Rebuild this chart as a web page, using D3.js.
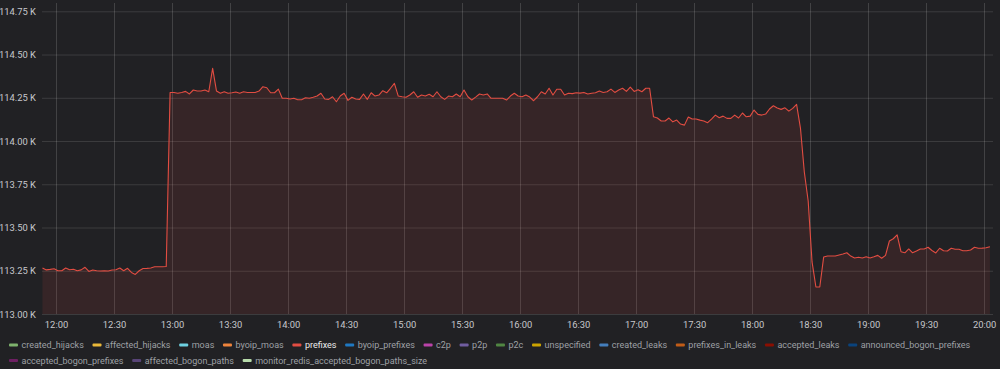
<!DOCTYPE html>
<html>
<head>
<meta charset="utf-8">
<script src="https://cdn.jsdelivr.net/npm/d3@7"></script>
<style>
	body { margin: 0; background: #212124; }
	svg { display: block; font-family: Roboto, sans-serif; }
</style>
</head>
<body>
<svg id="chart" width="1000" height="369"></svg>
<script>
// sampling of the series: one point every 2 minutes from 11:53
var startTime = "2021-03-01T11:53:00Z";
var stepMinutes = 2;

var prefixes = [
	113266,113255,113258,113262,113250,113250,113266,113256,113259,113250,113255,113270,113246,113254,113250,113249,113250,113249,113254,113256,113266,113250,113264,113240,113229,113250,113263,113264,113266,113273,113273,113273,113275,
	114281,114281,114276,114281,114287,114272,114295,114289,114289,114295,114285,114420,114289,114276,114285,114276,114279,114283,114276,114285,114281,114281,114281,114289,114314,114308,114279,114279,114300,
	114247,114247,114243,114247,114239,114239,114250,114247,114253,114260,114276,114243,114241,114256,114227,114260,114276,114235,114253,114243,114241,114272,114241,114279,114260,114266,114291,114279,114305,114333,
	114260,114256,114253,114266,114285,114253,114266,114260,114270,114256,114285,114256,114241,114260,114256,114272,114256,114295,114256,114237,114254,114272,114266,114272,114247,114247,114247,114247,114237,114260,114276,114260,114256,114266,114254,114233,114256,114285,114272,114305,114266,114299,114299,114266,114276,114274,114279,114277,114281,114272,114276,114279,114289,114281,114285,114300,
	114281,114295,114305,114287,114312,114287,114297,114285,114305,114305,
	114140,114133,114116,114116,114133,114111,114121,114098,114092,114139,114127,114127,114121,114116,114106,114127,114150,114135,114144,114131,114131,114150,114133,114162,114140,114144,114179,114154,114150,114156,114185,114204,114191,114183,114192,114173,114189,114212,
	114075,113821,113653,113301,113156,113156,113329,113335,113335,113335,113341,113347,113354,113335,113324,113328,113324,113331,113324,113331,113339,113322,113339,113422,113435,113457,
	113360,113354,113376,113354,113364,113376,113376,113386,113367,113353,113380,113366,113364,113380,113374,113374,113366,113366,113370,113386,113380,113381,113383,113389
];

var yTicks = [113000, 113250, 113500, 113750, 114000, 114250, 114500, 114750];
var xTicks = ["12:00","12:30","13:00","13:30","14:00","14:30","15:00","15:30","16:00","16:30","17:00","17:30","18:00","18:30","19:00","19:30","20:00"];

var seriesNames = ["created_hijacks","affected_hijacks","moas","byoip_moas","prefixes","byoip_prefixes","c2p","p2p","p2c","unspecified","created_leaks","prefixes_in_leaks","accepted_leaks","announced_bogon_prefixes","accepted_bogon_prefixes","affected_bogon_paths","monitor_redis_accepted_bogon_paths_size"];
var seriesColors = ["#7EB26D","#EAB839","#6ED0E0","#EF843C","#E24D42","#1F78C1","#BA43A9","#705DA0","#508642","#CCA300","#447EBC","#C15C17","#890F02","#0A437C","#6D1F62","#584477","#B7DBAB"];

var day = "2021-03-01T";
var t0 = new Date(startTime);
var data = prefixes.map((v, i) => ({time: new Date(t0.getTime() + i * stepMinutes * 60000), value: v}));

var svg = d3.select("#chart"),
	margin = {top: 3, left: 42, bottom: 55, right: 7},
	width = +svg.attr("width"),
	height = +svg.attr("height");

var x = d3.scaleUtc()
	.domain([new Date(day + "11:52:45Z"), new Date(day + "20:04:35Z")])
	.range([margin.left, width - margin.right]);

var y = d3.scaleLinear()
	.domain([113000, 114798])
	.range([height - margin.bottom, margin.top]);

var xTickDates = xTicks.map(d => new Date(day + d + ":00Z"));

// grid
svg.append("g")
	.attr("class", "y-grid")
	.selectAll("line")
	.data(yTicks)
	.enter().append("line")
	.attr("x1", margin.left)
	.attr("x2", width - margin.right)
	.attr("y1", d => y(d) + 0.5)
	.attr("y2", d => y(d) + 0.5)
	.attr("stroke", "#ffffff")
	.attr("stroke-opacity", 0.12);

svg.append("g")
	.attr("class", "x-grid")
	.selectAll("line")
	.data(xTickDates)
	.enter().append("line")
	.attr("x1", d => Math.round(x(d)) + 0.5)
	.attr("x2", d => Math.round(x(d)) + 0.5)
	.attr("y1", margin.top)
	.attr("y2", height - margin.bottom)
	.attr("stroke", "#ffffff")
	.attr("stroke-opacity", 0.15);

// series
var area = d3.area()
	.x(d => x(d.time))
	.y0(y(113000))
	.y1(d => y(d.value));

var line = d3.line()
	.x(d => x(d.time))
	.y(d => y(d.value));

svg.append("path")
	.datum(data)
	.attr("fill", "#E24D42")
	.attr("fill-opacity", 0.11)
	.attr("d", area);

svg.append("path")
	.datum(data)
	.attr("fill", "none")
	.attr("stroke", "#E24D42")
	.attr("stroke-width", 1.1)
	.attr("stroke-linejoin", "round")
	.attr("d", line);

// axes
var yAxis = svg.append("g")
	.attr("class", "y-axis")
	.attr("transform", `translate(${margin.left},0)`)
	.call(d3.axisLeft(y).tickValues(yTicks).tickSize(0).tickPadding(6)
		.tickFormat(d => d3.format(".2f")(d / 1000) + " K"));

var xAxis = svg.append("g")
	.attr("class", "x-axis")
	.attr("transform", `translate(0,${height - margin.bottom})`)
	.call(d3.axisBottom(x).tickValues(xTickDates).tickSize(0).tickPadding(7)
		.tickFormat(d3.utcFormat("%H:%M")));

svg.selectAll(".y-axis, .x-axis").select(".domain").remove();
svg.selectAll(".y-axis text, .x-axis text")
	.attr("fill", "#c7c8cc")
	.style("font-size", "9.4px")
	.style("font-family", "Roboto, sans-serif");

// legend
var legend = svg.append("g").attr("class", "legend");
var lx = 9, ly = 345, rowH = 15.5;

seriesNames.forEach((name, i) => {
	var g = legend.append("g");
	var label = g.append("text")
		.attr("x", 12.5)
		.attr("y", 0)
		.attr("dy", "0.35em")
		.attr("fill", name == "prefixes" ? "#ececec" : "#9ea0a5")
		.style("font-size", "9px")
		.text(name);
	var w = label.node().getComputedTextLength();
	if (lx + 12.5 + w > width - 8) {
		lx = 9;
		ly += rowH;
	}
	g.attr("transform", `translate(${lx},${ly})`);
	g.insert("rect", "text")
		.attr("x", 0)
		.attr("y", -1.5)
		.attr("width", 9)
		.attr("height", 3)
		.attr("rx", 1)
		.attr("fill", seriesColors[i]);
	lx += 12.5 + w + 8.7;
});
</script>
</body>
</html>
